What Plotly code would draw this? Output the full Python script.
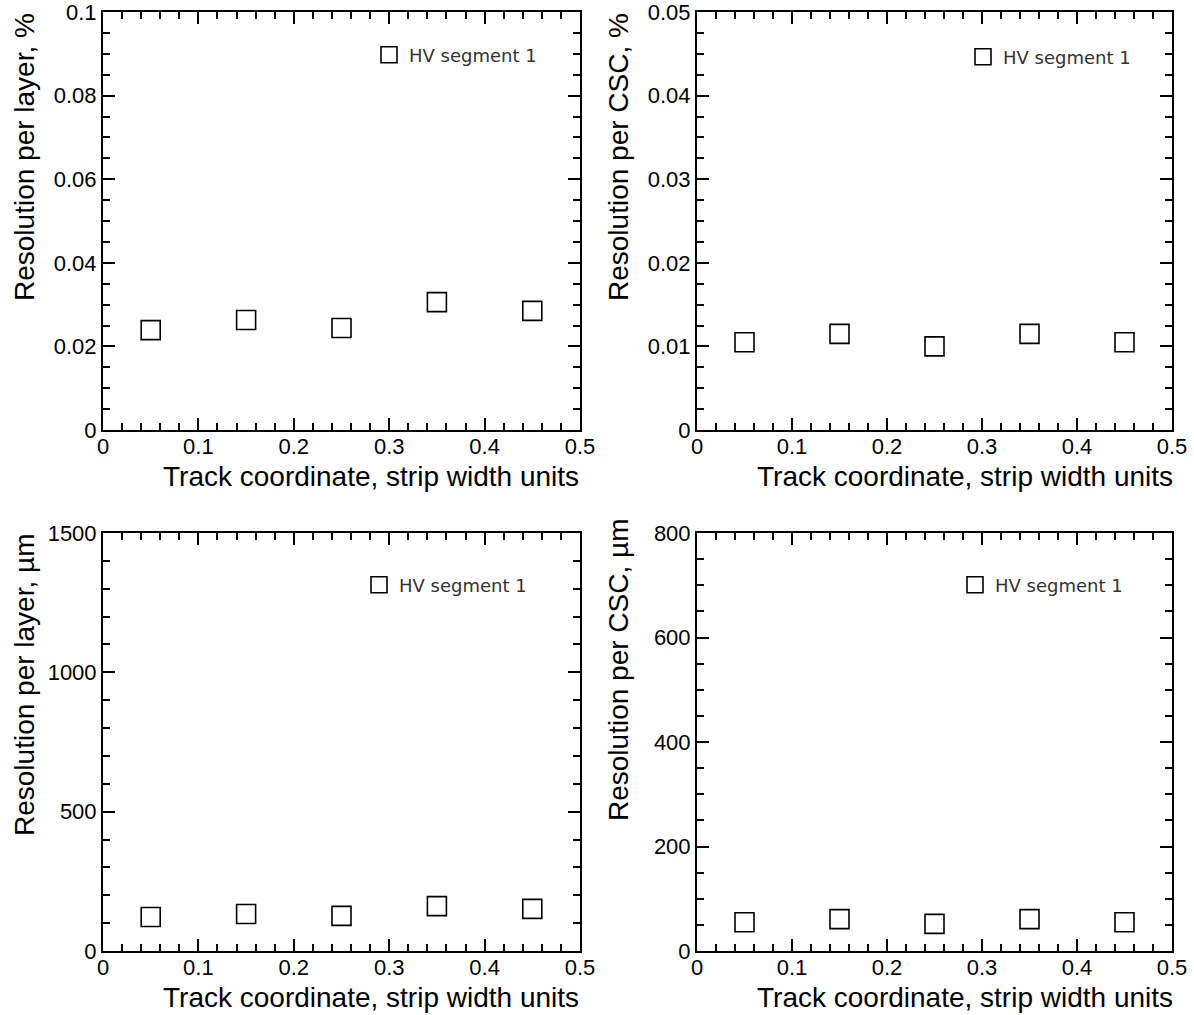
import plotly.graph_objects as go

x_vals = [0.05, 0.15, 0.25, 0.35, 0.45]
res_layer_pct = [0.0239, 0.0263, 0.0244, 0.0306, 0.0285]
res_csc_pct = [0.0105, 0.0115, 0.0100, 0.0115, 0.0105]
res_layer_um = [122, 133, 126, 161, 151]
res_csc_um = [55, 61, 52, 61, 55]
series_name = "HV segment 1"
x_title = "Track coordinate, strip width units"
y_titles = ["Resolution per layer, %", "Resolution per CSC, %",
            "Resolution per layer, µm", "Resolution per CSC, µm"]
x_ticks = [0, 0.1, 0.2, 0.3, 0.4, 0.5]
x_ticktext = ["0", "0.1", "0.2", "0.3", "0.4", "0.5"]
y_ticks_layer_pct = [0, 0.02, 0.04, 0.06, 0.08, 0.1]
y_ticktext_layer_pct = ["0", "0.02", "0.04", "0.06", "0.08", "0.1"]
y_ticks_csc_pct = [0, 0.01, 0.02, 0.03, 0.04, 0.05]
y_ticktext_csc_pct = ["0", "0.01", "0.02", "0.03", "0.04", "0.05"]
y_ticks_layer_um = [0, 500, 1000, 1500]
y_ticktext_layer_um = ["0", "500", "1000", "1500"]
y_ticks_csc_um = [0, 200, 400, 600, 800]
y_ticktext_csc_um = ["0", "200", "400", "600", "800"]

W, H = 1194, 1015
fig = go.Figure()

panels = [
    dict(y=res_layer_pct, tv=y_ticks_layer_pct, tt=y_ticktext_layer_pct, mdt=0.005,
         xr=(103, 580), yr=(12, 430), leg=(369, 55), ytitle=(24, 157), xtitle=(581, 476)),
    dict(y=res_csc_pct, tv=y_ticks_csc_pct, tt=y_ticktext_csc_pct, mdt=0.0025,
         xr=(697, 1172), yr=(12, 430), leg=(963, 57), ytitle=(618, 157), xtitle=(1175, 476)),
    dict(y=res_layer_um, tv=y_ticks_layer_um, tt=y_ticktext_layer_um, mdt=100,
         xr=(103, 580), yr=(533, 951), leg=(359, 585), ytitle=(24, 685), xtitle=(581, 997)),
    dict(y=res_csc_um, tv=y_ticks_csc_um, tt=y_ticktext_csc_um, mdt=50,
         xr=(697, 1172), yr=(533, 951), leg=(955, 585), ytitle=(618, 670), xtitle=(1175, 997)),
]

annotations = []
for i, p in enumerate(panels):
    n = i + 1
    xa = "x" if n == 1 else f"x{n}"
    ya = "y" if n == 1 else f"y{n}"
    lg = "legend" if n == 1 else f"legend{n}"
    fig.add_trace(go.Scatter(
        x=x_vals, y=p["y"], mode="markers", name=series_name,
        xaxis=xa, yaxis=ya, legend=lg, showlegend=True,
        marker=dict(symbol="square-open", size=19, color="black", line=dict(width=1.6)),
    ))
    axis_common = dict(
        showline=True, linecolor="black", linewidth=2, mirror="allticks",
        ticks="inside", ticklen=12, tickwidth=2, tickcolor="black",
        showgrid=False, zeroline=False, automargin=False, tickmode="array",
        ticklabeloverflow="allow",
        tickfont=dict(family="Liberation Sans, Arial", size=22, color="black"),
        minor=dict(ticks="inside", ticklen=7, tickwidth=1.5, tickcolor="black", showgrid=False),
    )
    xdom = [p["xr"][0] / W, p["xr"][1] / W]
    ydom = [1 - p["yr"][1] / H, 1 - p["yr"][0] / H]
    fig.layout[("xaxis" if n == 1 else f"xaxis{n}")] = dict(
        axis_common, domain=xdom, range=[x_ticks[0], x_ticks[-1]],
        tickvals=x_ticks, ticktext=x_ticktext, ticklabelstandoff=-4,
        anchor=ya, minor=dict(axis_common["minor"], tick0=0, dtick=0.02),
    )
    fig.layout[("yaxis" if n == 1 else f"yaxis{n}")] = dict(
        axis_common, domain=ydom, range=[p["tv"][0], p["tv"][-1]],
        tickvals=p["tv"], ticktext=p["tt"],
        anchor=xa, minor=dict(axis_common["minor"], tick0=0, dtick=p["mdt"]),
    )
    fig.layout[lg] = dict(
        x=p["leg"][0] / W, y=1 - p["leg"][1] / H, xanchor="left", yanchor="middle",
        bgcolor="rgba(0,0,0,0)", borderwidth=0,
        font=dict(family="DejaVu Sans", size=18, color="#333333"),
        itemsizing="trace",
    )
    annotations.append(dict(
        text=x_title, xref="paper", yref="paper",
        x=p["xtitle"][0] / W, y=1 - p["xtitle"][1] / H, xanchor="right", yanchor="middle",
        showarrow=False, font=dict(family="Liberation Sans, Arial", size=28, color="black"),
    ))
    annotations.append(dict(
        text=y_titles[i], xref="paper", yref="paper", textangle=-90,
        x=p["ytitle"][0] / W, y=1 - p["ytitle"][1] / H, xanchor="center", yanchor="middle",
        showarrow=False, font=dict(family="Liberation Sans, Arial", size=28, color="black"),
    ))

fig.update_layout(
    width=W, height=H, margin=dict(l=0, r=0, t=0, b=0),
    paper_bgcolor="white", plot_bgcolor="white",
    annotations=annotations,
)
fig.write_html("out.html")
